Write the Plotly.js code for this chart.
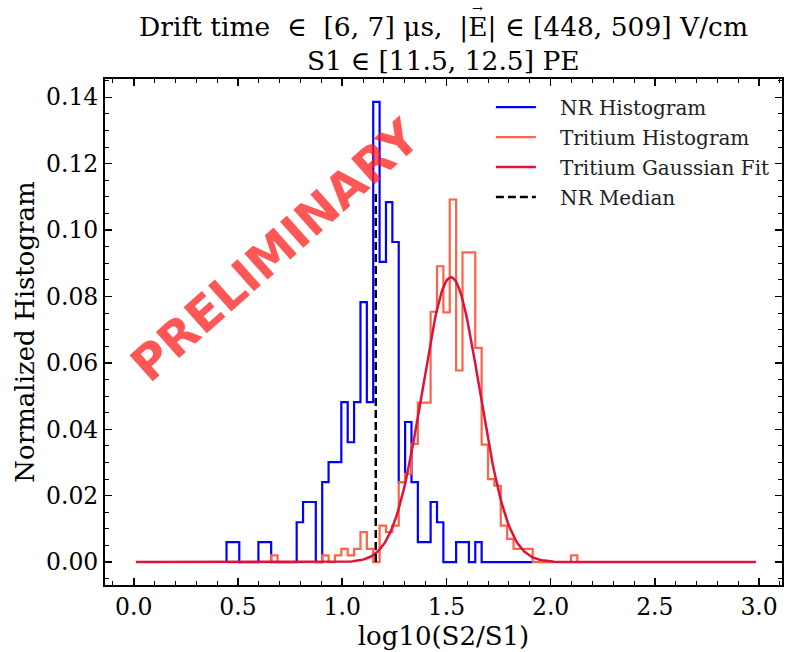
<!DOCTYPE html>
<html><head><meta charset="utf-8">
<script src="https://cdn.plot.ly/plotly-3.0.1.min.js"></script>
<style>html,body{margin:0;padding:0;background:#fff}</style>
</head><body>
<div id="chart" style="width:786px;height:652px"></div>
<script>
// Shared histogram binning (log10(S2/S1))
const binStart = 0.445;
const binWidth = 0.0306;

// NR histogram (normalized counts per bin)
const nrHist = [0.0060,0.0060,0,0,0,0.0060,0.0060,0,0,0,0,0.0120,0.0181,0.0181,0,0.0241,0.0301,0.0301,0.0482,0.0361,0.0482,0.0783,0.0482,0.1386,0.0904,0.1084,0.0964,0.0241,0.0422,0.0241,0.0060,0.0060,0.0181,0.0120,0,0,0.0060,0.0060,0,0.0060,0,0,0,0,0,0,0,0];

// Tritium histogram (normalized counts per bin)
const tritiumHist = [0,0,0,0,0,0,0,0.002,0,0,0,0,0,0,0,0.002,0,0.002,0.004,0.002,0.004,0.009,0.004,0,0.011,0.009,0.011,0.0241,0.0266,0.0356,0.048,0.048,0.0754,0.0891,0.0752,0.1092,0.0577,0.0933,0.0933,0.0645,0.0354,0.025,0.023,0.011,0.007,0.004,0.004,0.004,0,0,0,0,0,0,0.002];

// Tritium Gaussian fit parameters
const fitAmplitude = 0.0858;
const fitMean = 1.522;
const fitSigma = 0.137;
const fitRange = [0.01, 2.985];

// NR median
const nrMedian = 1.161;
const nrMedianTop = 0.111;

// Text
const titleLine1Pre = "Drift time\u00a0 \u2208 \u00a0[6, 7] \u03bcs,\u00a0 |";
const titleLine1E = "E";
const titleLine1Post = "| \u2208 [448, 509] V/cm";
const titleLine2 = "S1 \u2208 [11.5, 12.5] PE";
const xLabel = "log10(S2/S1)";
const yLabel = "Normalized Histogram";
const seriesNames = ["NR Histogram", "Tritium Histogram", "Tritium Gaussian Fit", "NR Median"];
const watermark = "PRELIMINARY";

function stepXY(h) {
  const xs = [binStart], ys = [0];
  for (let i = 0; i < h.length; i++) { xs.push(binStart + i * binWidth); ys.push(h[i]); }
  xs.push(binStart + h.length * binWidth); ys.push(0);
  return {xs, ys};
}
const nrStep = stepXY(nrHist);
const trStep = stepXY(tritiumHist);

const gx = [], gy = [];
const nPts = 400;
for (let i = 0; i <= nPts; i++) {
  const x = fitRange[0] + (fitRange[1] - fitRange[0]) * i / nPts;
  gx.push(x);
  gy.push(fitAmplitude * Math.exp(-0.5 * Math.pow((x - fitMean) / fitSigma, 2)));
}

const FONT = "DejaVu Serif";
const TITLE_SIZE = 26.5;
const W = 786, H = 652;
const M = {l: 105, r: 4, t: 79, b: 67};
const plotW = W - M.l - M.r, plotH = H - M.t - M.b;

// locate the E of the title to put the vector arrow on it
const cv = document.createElement("canvas").getContext("2d");
cv.font = TITLE_SIZE + "px '" + FONT + "'";
const line1 = titleLine1Pre + titleLine1E + titleLine1Post;
const wAll = cv.measureText(line1).width;
const wPre = cv.measureText(titleLine1Pre).width;
const wE = cv.measureText(titleLine1E).width;
const centerPx = M.l + plotW / 2;
const eCenterPx = centerPx - wAll / 2 + wPre + wE / 2;

const pad = "\u00a0\u00a0\u00a0";
const traces = [
  {x: nrStep.xs, y: nrStep.ys, mode: "lines", line: {shape: "hv", color: "#0000ff", width: 2.2}, name: pad + seriesNames[0], legendgroup: "a"},
  {x: trStep.xs, y: trStep.ys, mode: "lines", line: {shape: "hv", color: "#ff6347", width: 2.2}, name: pad + seriesNames[1], legendgroup: "b"},
  {x: gx, y: gy, mode: "lines", line: {color: "#dc143c", width: 2.5}, name: pad + seriesNames[2], legendgroup: "c"},
  {x: [nrMedian, nrMedian], y: [0, nrMedianTop], mode: "lines", line: {color: "#000", width: 2.5, dash: "8px,4px"}, name: pad + seriesNames[3], legendgroup: "d"}
];

const axisCommon = {
  showline: true, linecolor: "#000", linewidth: 2, mirror: "allticks",
  ticks: "inside", ticklen: 7, tickwidth: 1.5, tickcolor: "#000",
  showgrid: false, zeroline: false,
  tickfont: {family: FONT, size: 23.5, color: "#000"}
};

const py = (px) => 1 + (M.t - px) / plotH;

const layout = {
  width: W, height: H,
  margin: M,
  paper_bgcolor: "#fff", plot_bgcolor: "#fff",
  xaxis: Object.assign({}, axisCommon, {
    range: [-0.138, 3.11], tick0: 0, dtick: 0.5, tickformat: ".1f",
    minor: {dtick: 0.1, tick0: 0, ticks: "inside", ticklen: 4, tickwidth: 1, tickcolor: "#000"},
    title: {text: xLabel, font: {family: FONT, size: 26, color: "#000"}, standoff: 3}
  }),
  yaxis: Object.assign({}, axisCommon, {
    range: [-0.0069, 0.1455], tick0: 0, dtick: 0.02, tickformat: ".2f",
    minor: {dtick: 0.005, tick0: 0, ticks: "inside", ticklen: 4, tickwidth: 1, tickcolor: "#000"},
    title: {text: yLabel, font: {family: FONT, size: 26, color: "#000"}, standoff: 4}
  }),
  showlegend: true,
  legend: {x: 0.57, y: 0.983, xanchor: "left", yanchor: "top", bgcolor: "rgba(0,0,0,0)", borderwidth: 0,
           font: {family: FONT, size: 20, color: "#222"}, traceorder: "grouped", tracegroupgap: 1, itemwidth: 40},
  annotations: [
    {text: watermark, x: 0.678, y: 0.094, xref: "x", yref: "y", showarrow: false, textangle: -41.6,
     font: {family: "DejaVu Sans", size: 48, weight: "bold", color: "rgba(255,30,30,0.75)"}},
    {text: line1, x: 0.5, y: py(27), xref: "paper", yref: "paper", xanchor: "center", yanchor: "middle", showarrow: false,
     font: {family: FONT, size: TITLE_SIZE, color: "#000"}},
    {text: titleLine2, x: 0.5, y: py(61), xref: "paper", yref: "paper", xanchor: "center", yanchor: "middle", showarrow: false,
     font: {family: FONT, size: TITLE_SIZE, color: "#000"}},
    {text: "\u2192", x: (eCenterPx - M.l) / plotW, y: py(9), xref: "paper", yref: "paper", xanchor: "center", yanchor: "middle", showarrow: false,
     font: {family: FONT, size: 13, color: "#000"}}
  ]
};

Plotly.newPlot("chart", traces, layout, {displayModeBar: false, staticPlot: true});
</script>
</body></html>
